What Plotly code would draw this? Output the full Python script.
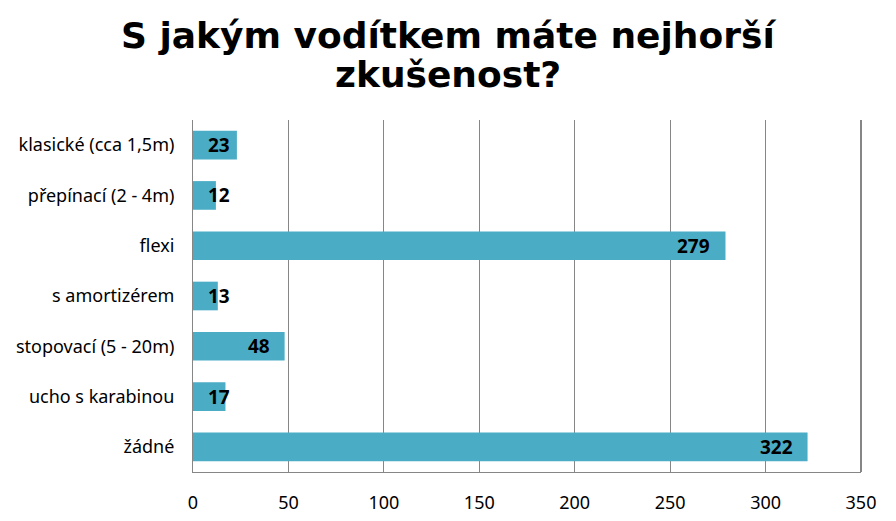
import plotly.graph_objects as go

categories = ["klasické (cca 1,5m)", "přepínací (2 - 4m)", "flexi", "s amortizérem",
              "stopovací (5 - 20m)", "ucho s karabinou", "žádné"]
values = [23, 12, 279, 13, 48, 17, 322]
x_ticks = [0, 50, 100, 150, 200, 250, 300, 350]
title_lines = ["S jakým vodítkem máte nejhorší", "zkušenost?"]

# page body has an 8px margin, so the figure is 16px smaller than the window
W, H = 880, 505
L, R, T, B = 185, 27, 112, 41
plot_h = H - T - B
plot_w = W - L - R
x_max = 350
px_per_unit = plot_w / x_max

fig = go.Figure(go.Bar(
    y=categories, x=values, orientation="h",
    marker=dict(color="#4BACC6", line=dict(width=0)),
    hoverinfo="x+y",
))

fig.update_layout(
    width=W, height=H,
    paper_bgcolor="white", plot_bgcolor="white",
    margin=dict(l=L, r=R, t=T, b=B, autoexpand=False),
    bargap=0.43,
    showlegend=False,
    font=dict(family="Noto Sans", size=18, color="black"),
)

# data labels: "inside end", but kept off the axis when the bar is too short
label_pad = 13
for cat, v in zip(categories, values):
    label_w = 11.5 * len(str(v))
    fits = v * px_per_unit >= label_w + 2 * label_pad
    fig.add_annotation(
        x=v if fits else 0, y=cat, xref="x", yref="y",
        text=str(v), showarrow=False,
        xanchor="right" if fits else "left", yanchor="middle",
        xshift=-label_pad if fits else label_pad,
        font=dict(family="Noto Sans", size=19, color="black", weight="bold"),
    )

for line, py in zip(title_lines, [28, 66]):
    fig.add_annotation(text=line, xref="paper", yref="paper",
                       x=(440 - L) / plot_w, y=1 + (T - py) / plot_h,
                       xanchor="center", yanchor="middle", showarrow=False,
                       font=dict(family="DejaVu Sans", size=36, color="black", weight="bold"))
fig.update_xaxes(range=[0, x_max], tickvals=x_ticks, showgrid=True, gridcolor="#868686",
                 gridwidth=1, zeroline=False, showline=True, linecolor="#868686",
                 ticks="", ticklabelstandoff=14, automargin=False)
fig.update_yaxes(autorange="reversed", showgrid=False, showline=True, linecolor="#868686",
                 ticks="", ticklabelstandoff=14, automargin=False)
fig.add_shape(type="line", xref="paper", yref="paper", x0=1, x1=1, y0=0, y1=1,
              line=dict(color="#868686", width=2))

fig.write_html("out.html")
